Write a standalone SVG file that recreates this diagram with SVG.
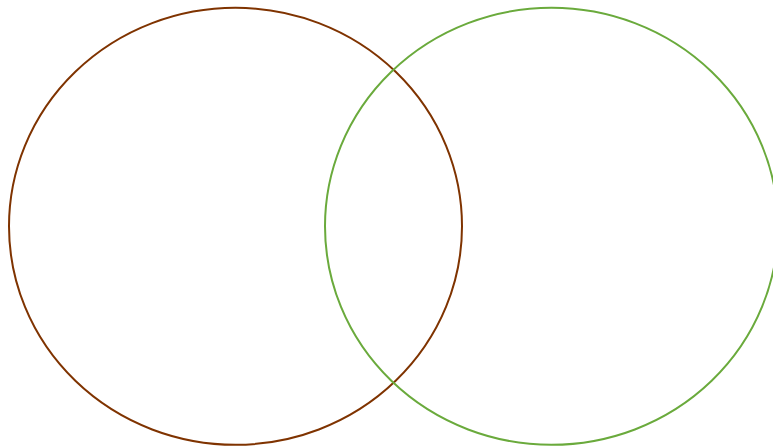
<svg xmlns="http://www.w3.org/2000/svg" width="773" height="447" viewBox="0 0 773 447">
<style>
.c{fill:none;stroke-width:2}
</style>
<rect width="773" height="447" fill="#ffffff"/>
<g id="set-a"><ellipse class="c" cx="235.5" cy="226.3" rx="226.5" ry="218.5" stroke="#7f3300"/></g>
<g id="set-b"><ellipse class="c" cx="551.5" cy="226.3" rx="226.5" ry="218.5" stroke="#6aaa3c"/></g>
<g id="connectors"></g>
</svg>
